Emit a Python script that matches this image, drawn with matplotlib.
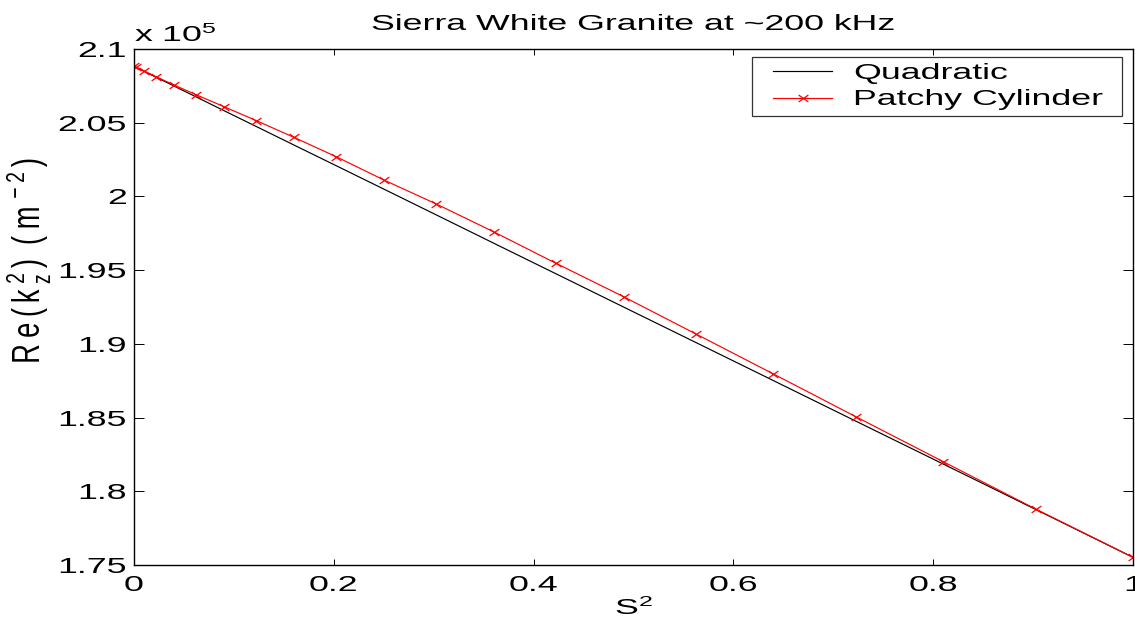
import os
import matplotlib
matplotlib.use("Agg")
import matplotlib.pyplot as plt
from matplotlib import font_manager as fm
from matplotlib.ticker import FuncFormatter
from matplotlib.path import Path
from matplotlib.legend_handler import HandlerLine2D

# ---------------- data ----------------
# S^2 sample points (S = 0, 0.05, ..., 1)
s2 = [0, 0.0025, 0.01, 0.0225, 0.04, 0.0625, 0.09, 0.1225, 0.16, 0.2025, 0.25,
      0.3025, 0.36, 0.4225, 0.49, 0.5625, 0.64, 0.7225, 0.81, 0.9025, 1.0]

# Re(kz^2) in m^-2
quadratic = [2.0882e5, 2.0874e5, 2.0849e5, 2.0807e5, 2.0749e5, 2.0674e5, 2.0582e5,
             2.0474e5, 2.0349e5, 2.0208e5, 2.0050e5, 1.9875e5, 1.9683e5, 1.9475e5,
             1.9250e5, 1.9009e5, 1.8751e5, 1.8476e5, 1.8185e5, 1.7877e5, 1.7552e5]
patchy = [2.0882e5, 2.0876e5, 2.0851e5, 2.0811e5, 2.0756e5, 2.0689e5, 2.0609e5,
          2.0514e5, 2.0401e5, 2.0269e5, 2.0112e5, 1.9949e5, 1.9760e5, 1.9546e5,
          1.9320e5, 1.9067e5, 1.8796e5, 1.8506e5, 1.8201e5, 1.7880e5, 1.7552e5]

xticks = [0, 0.2, 0.4, 0.6, 0.8, 1.0]
yticks = [1.75e5, 1.80e5, 1.85e5, 1.90e5, 1.95e5, 2.00e5, 2.05e5, 2.10e5]
series_labels = ['Quadratic', 'Patchy Cylinder']


# ------------- MATLAB-look fonts derived from Liberation Sans -------------
def make_font(new_name, gx, gy, adv_scale):
    from fontTools.ttLib import TTFont
    src = fm.findfont(fm.FontProperties(family='Liberation Sans'),
                      fallback_to_default=False)
    f = TTFont(src)
    glyf = f['glyf']
    hmtx = f['hmtx']
    for t in ['kern', 'hdmx', 'LTSH', 'VDMX']:
        if t in f:
            del f[t]
    order = f.getGlyphOrder()
    delta = {}
    for gname in order:
        adv, lsb = hmtx[gname]
        new_adv = int(round(adv * adv_scale))
        delta[gname] = int(round((new_adv - adv * gx) / 2.0))
    for gname in order:
        g = glyf[gname]
        d = delta[gname]
        if g.isComposite():
            for c in g.components:
                if hasattr(c, 'x'):
                    c.x = int(round(c.x * gx)) + d - delta.get(c.glyphName, 0)
                    c.y = int(round(c.y * gy))
        elif g.numberOfContours > 0:
            g.coordinates.scale((gx, gy))
            g.coordinates.translate((d, 0))
            g.coordinates.toInt()
        adv, lsb = hmtx[gname]
        hmtx[gname] = (int(round(adv * adv_scale)), int(round(lsb * gx)) + d)
    if gy != 1.0:
        hh = f['hhea']
        hh.ascent = int(round(hh.ascent * gy))
        hh.descent = int(round(hh.descent * gy))
        os2 = f['OS/2']
        os2.sTypoAscender = int(round(os2.sTypoAscender * gy))
        os2.sTypoDescender = int(round(os2.sTypoDescender * gy))
        os2.usWinAscent = int(round(os2.usWinAscent * gy))
        os2.usWinDescent = int(round(os2.usWinDescent * gy))
    for rec in f['name'].names:
        if rec.nameID in (1, 16):
            rec.string = new_name
        elif rec.nameID == 4:
            rec.string = new_name + ' Regular'
        elif rec.nameID == 6:
            rec.string = new_name + '-Regular'
    path = os.path.abspath(new_name + '.ttf')
    f.save(path)
    fm.fontManager.addfont(path)
    return new_name


try:
    WIDE = make_font('StretchSans', 1.66, 1.0, 1.66)
except Exception:
    WIDE = 'DejaVu Sans'
try:
    TALL = make_font('TallSans', 1.1, 1.55, 1.55)
except Exception:
    TALL = 'Liberation Sans'

plt.rcParams['font.family'] = [WIDE, 'DejaVu Sans']
FS = 15.5

# ---------------- figure ----------------
fig = plt.figure(figsize=(11.35, 6.23), dpi=100)
ax = fig.add_axes([134/1135, 1 - 565/623, (1133 - 134)/1135, (565 - 49)/623])

xmark = Path([(-1.4, -1), (1.4, 1), (1.4, -1), (-1.4, 1)],
             [Path.MOVETO, Path.LINETO, Path.MOVETO, Path.LINETO])

ax.plot(s2, quadratic, color='black', lw=0.85, label=series_labels[0])
ax.plot(s2, patchy, color='red', lw=0.85, marker=xmark, ms=7, mew=0.9,
        label=series_labels[1])

ax.set_xlim(0, 1)
ax.set_ylim(1.75e5, 2.1e5)
ax.set_xticks(xticks)
ax.set_yticks(yticks)
ax.xaxis.set_major_formatter(FuncFormatter(lambda v, p: '%g' % v))
ax.yaxis.set_major_formatter(FuncFormatter(lambda v, p: '%g' % round(v / 1e5, 4)))
ax.tick_params(axis='both', direction='in', top=True, right=True, width=0.7,
               labelsize=FS)
ax.tick_params(axis='x', length=4.3, pad=7)
ax.tick_params(axis='y', length=7.2, pad=5)
for sp in ax.spines.values():
    sp.set_linewidth(1.0)

ax.text(0.0, 1 + 7/516, r'x 10$\mathregular{^5}$', transform=ax.transAxes,
        fontsize=FS, ha='left', va='baseline')
ax.set_title('Sierra White Granite at ~200 kHz', fontsize=FS, pad=13.7)
ax.set_xlabel(r'S$\mathregular{^2}$', fontsize=FS, labelpad=1)
ax.set_ylabel(r'Re(k$\mathregular{_z^2}$) (m$\mathregular{^{-2}}$)',
              fontsize=18, family=[TALL, 'DejaVu Sans'])
ax.yaxis.set_label_coords(-80/999, (565 - 263)/516)


class CenterMarkerHandler(HandlerLine2D):
    def get_xdata(self, legend, xdescent, ydescent, width, height, fontsize):
        pad = 0.17 * width
        xdata = [-xdescent + pad, -xdescent + width - pad]
        xdata_marker = [-xdescent + 0.5 * width]
        return xdata, xdata_marker


leg = ax.legend(loc='upper left',
                bbox_to_anchor=((752 - 134)/999, 0, (1122 - 752)/999, (565 - 57)/516),
                mode='expand', borderaxespad=0, fontsize=FS, frameon=True,
                fancybox=False, edgecolor='black', borderpad=0.28,
                labelspacing=0.25, handlelength=4.14, handletextpad=0.28,
                handler_map={plt.Line2D: CenterMarkerHandler()})
leg.get_frame().set_linewidth(0.9)

fig.savefig('out.png', dpi=100)
